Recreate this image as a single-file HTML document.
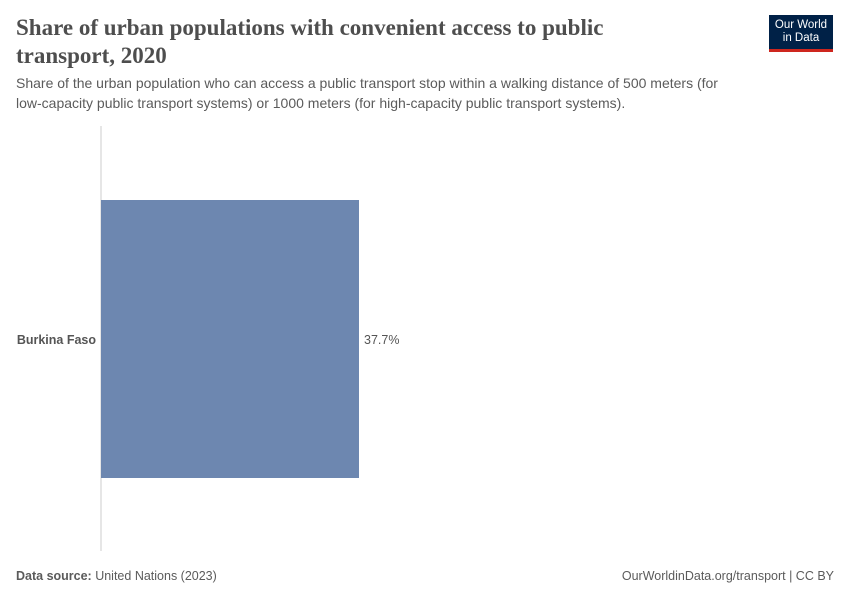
<!DOCTYPE html>
<html><head><meta charset="utf-8"><style>
body{margin:0;width:850px;height:600px;background:#fff;font-family:"Liberation Sans",sans-serif;position:relative;overflow:hidden}
.t{position:absolute;left:16px;top:14px;font-family:"Liberation Serif",serif;font-weight:bold;font-size:23px;line-height:28px;color:#4e4e4e;width:600px}
.s{position:absolute;left:16px;top:73px;font-size:14px;line-height:20px;color:#5b5b5b;width:725px}
.logo{position:absolute;left:769px;top:15px;width:64px;height:37px;background:#002147;color:#fff;font-size:11.5px;line-height:13px;text-align:center;padding-top:4px;box-sizing:border-box;border-bottom:3px solid #ce261e}
.f{position:absolute;top:569px;font-size:12.5px;color:#5b5b5b}
</style></head><body>
<div class="t">Share of urban populations with convenient access to public transport, 2020</div>
<div class="s">Share of the urban population who can access a public transport stop within a walking distance of 500 meters (for low-capacity public transport systems) or 1000 meters (for high-capacity public transport systems).</div>
<div class="logo">Our World<br>in Data</div>
<svg id="c" width="850" height="600" style="position:absolute;left:0;top:0"></svg>
<div class="f" style="left:16px"><b>Data source:</b> United Nations (2023)</div>
<div class="f" style="right:16px">OurWorldinData.org/transport | CC BY</div>
<script>
const categories=["Burkina Faso"];
const values=[37.7];
const svg=document.getElementById('c');
const NS='http://www.w3.org/2000/svg';
const x0=101,pxPer=258/37.7;
const xs=v=>x0+v*pxPer;
const top0=200,bandH=278;
function mk(t,a){const e=document.createElementNS(NS,t);for(const k in a)e.setAttribute(k,a[k]);svg.appendChild(e);return e;}
const ax=mk('line',{x1:x0,x2:x0,y1:126,y2:551,stroke:'#ccc','stroke-width':1});


categories.forEach((c,i)=>{
 const y=top0+i*bandH;
 const r=mk('rect',{x:x0,y:y,width:xs(values[i])-x0,height:bandH,fill:'#6d87b0'});
 
 
 const l=mk('text',{x:x0-5,y:y+bandH/2+5,'text-anchor':'end','font-size':12.5,'font-weight':'bold',fill:'#555'});
 l.textContent=c;
 
 
 const v=mk('text',{x:xs(values[i])+5,y:y+bandH/2+5,'font-size':12.5,fill:'#555'});
 v.textContent=values[i].toFixed(1)+'%';
 
 
});
</script>
</body></html>
